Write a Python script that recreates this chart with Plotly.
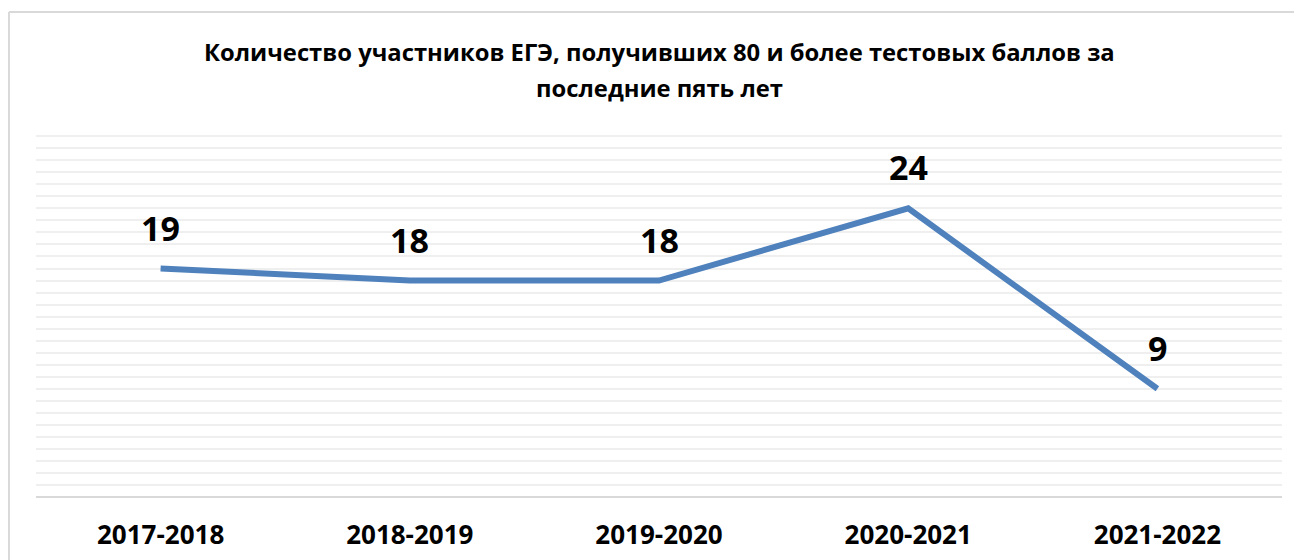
import plotly.graph_objects as go

years = ["2017-2018", "2018-2019", "2019-2020", "2020-2021", "2021-2022"]
counts = [19, 18, 18, 24, 9]
title_line1 = "Количество участников ЕГЭ, получивших 80 и более тестовых баллов за"
title_line2 = "последние пять лет"

FONT = "Open Sans"
LINE_COLOR = "#4f81bd"

fig = go.Figure()
fig.add_trace(go.Scatter(
    x=years, y=counts, mode="lines",
    line=dict(color=LINE_COLOR, width=6),
    hoverinfo="x+y",
))

for x, y in zip(years, counts):
    fig.add_annotation(
        x=x, y=y, text=f"<b>{y}</b>", showarrow=False,
        yshift=41, font=dict(family=FONT, size=34, color="#000000"),
    )

for txt, yp in [(title_line1, 1.2293), (title_line2, 1.1298)]:
    fig.add_annotation(
        xref="paper", yref="paper", x=0.5, y=yp, xanchor="center", yanchor="middle",
        text=f"<b>{txt}</b>", showarrow=False,
        font=dict(family=FONT, size=23.8, color="#000000"),
    )

fig.add_shape(type="line", xref="paper", yref="paper",
              x0=-0.0217, x1=1.05, y0=1.3398, y1=1.3398,
              line=dict(color="#d9d9d9", width=2))
fig.add_shape(type="line", xref="paper", yref="paper",
              x0=-0.0217, x1=-0.0217, y0=-0.3, y1=1.3398,
              line=dict(color="#d9d9d9", width=2))

fig.update_layout(
    width=1294, height=552,
    margin=dict(l=28, r=20, t=127, b=63, autoexpand=False),
    paper_bgcolor="#ffffff", plot_bgcolor="#ffffff",
    showlegend=False,
    xaxis=dict(
        type="category", range=[-0.5, 4.5], automargin=False,
        showgrid=False, showline=False, zeroline=False,
        ticks="", tickfont=dict(family=FONT, size=26, color="#000000"),
        tickprefix="<b>", ticksuffix="</b>", ticklabelstandoff=20,
    ),
    yaxis=dict(
        range=[0, 30.1], dtick=1, showticklabels=False, automargin=False,
        showgrid=True, gridcolor="#efefef", gridwidth=1.5,
        zeroline=True, zerolinecolor="#d9d9d9", zerolinewidth=2,
        showline=False, ticks="", fixedrange=True,
    ),
)

fig.write_html("out.html")
